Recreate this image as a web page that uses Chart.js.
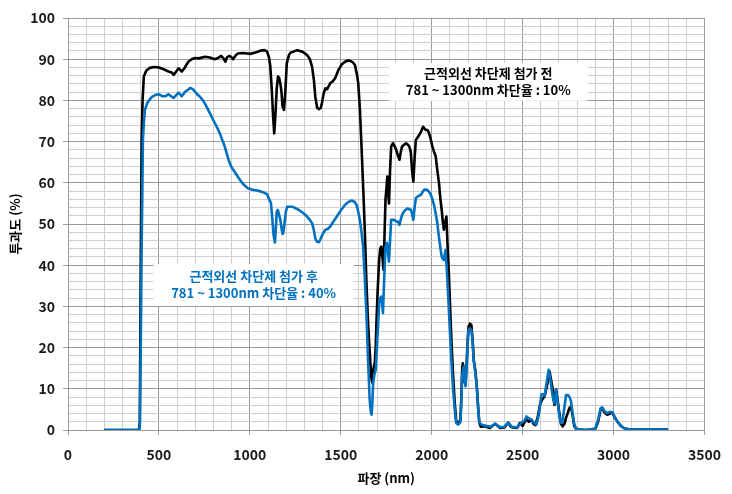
<!DOCTYPE html>
<html>
<head>
<meta charset="utf-8">
<script src="https://cdn.jsdelivr.net/npm/chart.js@4"></script>
<style>
  html, body { margin: 0; padding: 0; background: #fff; }
  #wrap { width: 732px; height: 494px; }
</style>
</head>
<body>
<div id="wrap"><canvas id="chart" width="732" height="494"></canvas></div>
<script>
// 근적외선 차단제 첨가 전 (black)
const beforeNm = [200,300,390,395,400,405,410,417,430,450,475,500,530,553,570,581,595,608,626,640,662,680,699,720,753,780,807,825,842,855,865,875,889,900,907,920,934,960,1005,1030,1061,1080,1094,1105,1112,1120,1128,1134,1140,1148,1155,1161,1168,1174,1180,1188,1195,1203,1215,1224,1261,1290,1315,1330,1342,1352,1360,1370,1379,1390,1397,1405,1415,1425,1442,1455,1469,1487,1505,1523,1540,1551,1565,1578,1590,1596,1605,1614,1624,1632,1641,1650,1659,1667,1674,1680,1687,1692,1696,1703,1711,1717,1723,1729,1735,1741,1746,1756,1760,1765,1771,1777,1787,1796,1805,1815,1823,1830,1837,1847,1859,1868,1877,1885,1892,1899,1906,1913,1922,1931,1942,1953,1960,1968,1977,1986,1995,2004,2013,2022,2031,2040,2048,2055,2061,2067,2074,2081,2087,2095,2102,2109,2118,2127,2135,2145,2152,2158,2163,2168,2171,2176,2181,2186,2192,2198,2203,2210,2218,2225,2231,2240,2249,2256,2262,2270,2294,2320,2349,2376,2400,2421,2435,2448,2470,2485,2500,2510,2521,2535,2548,2560,2570,2584,2595,2606,2621,2635,2648,2657,2666,2675,2684,2693,2702,2711,2720,2730,2739,2748,2757,2766,2775,2784,2800,2850,2900,2915,2929,2938,2950,2965,2980,2992,3005,3020,3040,3056,3080,3150,3200,3250,3300];
const beforeT = [0,0,0,2,40,70,80,85.8,87.2,87.9,88.1,88.0,87.5,87.0,86.8,86.2,87.0,87.8,87.0,87.8,89.4,90.0,90.3,90.2,90.6,90.4,90.0,90.3,90.8,90.2,89.4,90.5,90.8,90.4,90.0,90.8,91.4,91.5,91.3,91.6,92.1,92.2,91.9,90.5,88.5,83,76,72.0,76,83,85.8,85.5,84,82,78.5,77.7,82,89,91,91.6,92.2,91.8,91.0,90,88.2,85,80.9,78.2,77.9,78.2,79.5,81.5,82.9,82.7,84.2,84.6,85.4,87.4,88.7,89.4,89.7,89.6,89.3,88.6,86,84.2,78,68.8,58,48.6,36,26,19,13,11.5,15,16.3,20,26,34,41.3,44,44.5,42,38.9,48,55.9,61.5,58,55,63,68.8,69.6,68.9,68,66.5,65.6,67.5,68.8,69.2,69.6,69.3,68.8,67.5,63,60.3,66,70.4,71.0,71.6,72.5,73.6,73.2,72.8,72.8,72.0,70.5,68.8,67.5,66.4,63,59.9,56,53.4,50.5,48.6,50.5,51.8,45,37.3,29,21.2,13,6.5,2.1,1.5,2.0,2.5,8,15.5,16.2,14,11.5,11.4,16,22,25.1,25.8,25.5,22,17,14.5,10,5,1.7,0.8,0.9,0.5,1.5,0.5,0.6,1.8,0.8,0.6,0.5,1.7,1.0,1.9,2.5,2.0,2.5,1.5,1.2,3.3,6,7.3,8.2,11,14.2,12,9.8,6.1,9.8,7,4.1,1.5,0.9,1.5,3,4.1,5.3,5.7,3.5,0.9,0,0,0.3,2,5.0,5.3,4.3,3.7,4.0,4.3,3.2,2.1,1.0,0.5,0.2,0.1,0.2,0.1,0.1];

// 근적외선 차단제 첨가 후 (blue)
const afterNm = [200,300,390,395,400,405,412,417,423,435,450,463,480,499,520,535,553,567,581,595,608,626,644,660,671,685,699,712,726,745,762,780,798,818,835,850,862,875,889,902,916,935,952,970,989,1015,1043,1060,1079,1095,1107,1116,1124,1130,1134,1138,1143,1148,1154,1161,1168,1174,1180,1184,1190,1198,1206,1233,1270,1295,1315,1330,1342,1352,1360,1369,1380,1387,1400,1415,1428,1442,1460,1478,1500,1523,1540,1560,1575,1587,1596,1605,1614,1623,1632,1641,1650,1659,1665,1669,1673,1678,1685,1692,1700,1711,1717,1723,1728,1732,1739,1746,1754,1760,1765,1771,1777,1795,1805,1814,1823,1832,1841,1855,1868,1886,1892,1899,1906,1913,1927,1941,1950,1959,1968,1977,1986,1995,2004,2013,2022,2031,2038,2044,2050,2055,2061,2067,2071,2076,2083,2091,2100,2109,2118,2127,2135,2145,2152,2158,2163,2168,2176,2181,2186,2192,2198,2203,2210,2218,2225,2231,2240,2249,2256,2262,2276,2300,2325,2349,2376,2400,2421,2440,2470,2494,2510,2521,2535,2548,2562,2576,2590,2603,2612,2621,2632,2643,2652,2661,2668,2675,2684,2693,2702,2710,2718,2728,2739,2748,2757,2766,2775,2784,2793,2850,2900,2915,2929,2938,2950,2965,2980,2992,3005,3020,3040,3056,3080,3150,3200,3250,3300];
const afterT = [0,0,0,1,20,44.5,70.4,74.5,77.7,79.3,80.3,80.9,81.3,81.5,81.0,81.0,81.5,81.0,80.6,81.3,81.9,81.0,82.1,82.6,83.0,82.8,82.1,81.4,80.9,79.8,78.5,76.9,75.3,73.6,72.0,70.2,68.8,66.8,64.8,63.6,62.7,61.4,60.3,59.4,58.7,58.3,58.1,57.9,57.6,57.2,55.9,55.1,51,47.5,46.5,45.5,49,53,53.4,52.2,51,49,47.6,47.8,50,53,54.2,54.2,53.4,52.6,51.8,51,50.2,48.5,46.5,45.7,45.6,46.2,47.5,48.6,48.8,49.4,50.6,51.8,53.3,54.6,55.3,55.7,55.4,54.6,53,51,48,44.5,37,28.4,17,7.3,4.5,3.7,6,11.4,13.5,14.6,21,30.8,32,32.4,30.5,28.4,37,44.5,45.4,43,40.9,46,51.0,51.0,50.6,50.6,49.8,51.5,52.6,53.4,53.8,53.4,52.5,51.0,54,56.3,56.8,57.1,57.8,58.3,58.4,58.2,57.8,57.1,56,54.6,52.5,50.2,47.5,45.4,43.5,42.1,41.5,41.3,42.5,43.7,39,32.4,24,16.2,9.5,4.9,1.7,1.3,1.6,2.0,7,13.5,15.4,12.5,10.6,15,21,24.3,24.6,24.3,21.5,17,14,10,5,1.7,1.3,1.0,0.8,1.5,0.7,0.8,1.8,0.8,0.6,1.8,2.2,3.3,2.8,2.5,1.8,1.3,4,8.6,8.7,8.3,11.5,14.6,12.5,9.4,7.5,6.5,9.8,6.5,3.3,1.8,1.8,5,8.5,8.5,8.1,7,4.1,1.5,0.3,0,0.3,2.5,5.3,5.5,4.6,4.1,4.4,4.3,3.3,2.1,1.0,0.5,0.2,0.1,0.2,0.1,0.1];

const beforeLabel = ["근적외선 차단제 첨가 전", "781 ~ 1300nm 차단율 : 10%"];
const afterLabel = ["근적외선 차단제 첨가 후", "781 ~ 1300nm 차단율 : 40%"];

const BLUE = "#0070C0";
const MAJOR = "#9a9a9a", MINOR = "#cfcfcf";

function toPoints(xs, ys) { return xs.map((x, i) => ({x: x, y: ys[i]})); }

// white text boxes drawn under the curves
const noteBoxes = {
    id: "noteBoxes",
    beforeDatasetsDraw(chart, args, opts) {
        const {ctx, scales: {x, y}} = chart;
        ctx.save();
        opts.notes.forEach(n => {
            const cx = x.getPixelForValue(n.x), cy = y.getPixelForValue(n.y);
            ctx.fillStyle = "#fff";
            ctx.fillRect(cx - n.w / 2, cy - n.h / 2, n.w, n.h);
            ctx.fillStyle = n.color;
            ctx.font = "bold 13px 'Noto Sans CJK KR', sans-serif";
            ctx.textAlign = "center";
            ctx.textBaseline = "middle";
            ctx.fillText(n.lines[0], cx, cy - 8.5);
            ctx.fillText(n.lines[1], cx, cy + 8.5);
        });
        ctx.restore();
    }
};

Chart.defaults.font.family = "'Noto Sans CJK KR', 'Noto Sans', sans-serif";
Chart.defaults.color = "#1a1a1a";

new Chart(document.getElementById("chart"), {
    type: "line",
    data: {
        datasets: [
            {label: "첨가 후", data: toPoints(afterNm, afterT), borderColor: BLUE, borderWidth: 2.6, pointRadius: 0, tension: 0, borderJoinStyle: "round"},
            {label: "첨가 전", data: toPoints(beforeNm, beforeT), borderColor: "#000", borderWidth: 2.6, pointRadius: 0, tension: 0, borderJoinStyle: "round"}
        ]
    },
    options: {
        responsive: false,
        animation: false,
        devicePixelRatio: 1,
        layout: {padding: {left: 0, right: 20, top: 18, bottom: 0}},
        plugins: {
            legend: {display: false},
            tooltip: {enabled: false},
            noteBoxes: {
                notes: [
                    {lines: beforeLabel, x: 2311, y: 84.5, w: 198, h: 38, color: "#000"},
                    {lines: afterLabel, x: 1021, y: 35.2, w: 200, h: 42, color: BLUE}
                ]
            }
        },
        scales: {
            x: {
                type: "linear", min: 0, max: 3500,
                afterFit: s => { s.height = 64; },
                ticks: {
                    stepSize: 100, autoSkip: false, maxRotation: 0, padding: 11,
                    font: {size: 14, weight: "bold"},
                    callback: v => (v % 500 === 0 ? v : "")
                },
                grid: {
                    color: c => (c.tick && c.tick.value % 500 === 0 ? MAJOR : MINOR),
                    tickColor: c => (c.tick && c.tick.value % 500 === 0 ? MAJOR : "rgba(0,0,0,0)"),
                    tickLength: 5, lineWidth: 1
                },
                border: {color: MAJOR},
                title: {display: true, text: "파장 (nm)", font: {size: 13, weight: "bold"}, padding: {top: 0, bottom: 8}, color: "#000"}
            },
            y: {
                min: 0, max: 100,
                afterFit: s => { s.width = 68; },
                ticks: {
                    stepSize: 2, autoSkip: false, padding: 8,
                    font: {size: 14, weight: "bold"},
                    callback: v => (v % 10 === 0 ? v : "")
                },
                grid: {
                    color: c => (c.tick && c.tick.value % 10 === 0 ? MAJOR : MINOR),
                    tickColor: c => (c.tick && c.tick.value % 10 === 0 ? MAJOR : "rgba(0,0,0,0)"),
                    tickLength: 5, lineWidth: 1
                },
                border: {color: MAJOR},
                title: {display: true, text: "투과도 (%)", font: {size: 13, weight: "bold"}, padding: {top: 7, bottom: 0}, color: "#000"}
            }
        }
    },
    plugins: [noteBoxes]
});
</script>
</body>
</html>
